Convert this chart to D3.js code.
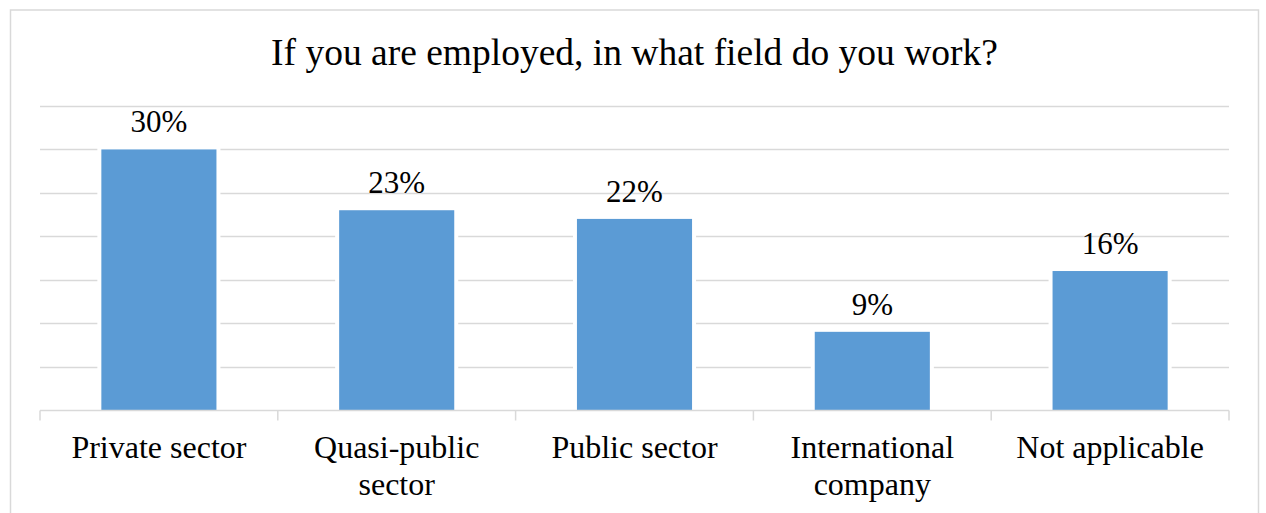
<!DOCTYPE html>
<html>
<head>
<meta charset="utf-8">
<script src="https://cdn.jsdelivr.net/npm/d3@7"></script>
<style>
  html, body { margin: 0; padding: 0; background: #fff; }
  svg { display: block; }
  text { font-family: "Liberation Serif", "Times New Roman", serif; fill: #000; }
</style>
</head>
<body>
<svg id="chart" width="1266" height="513"></svg>
<script>
// Survey answers: field of employment
const chartTitle = "If you are employed, in what field do you work?";
const categories = ["Private sector", "Quasi-public sector", "Public sector", "International company", "Not applicable"];
const categoryLines = [["Private sector"], ["Quasi-public", "sector"], ["Public sector"], ["International", "company"], ["Not applicable"]];
const shares = [30, 23, 22, 9, 16];
const gridTicks = [0, 5, 10, 15, 20, 25, 30, 35];

const svg = d3.select("#chart");
const plot = { left: 40, right: 1229, top: 106, bottom: 410 };

// chart frame
svg.append("rect")
  .attr("x", 10.5).attr("y", 10)
  .attr("width", 1248).attr("height", 520)
  .attr("fill", "#fff")
  .attr("stroke", "#d9d9d9").attr("stroke-width", 1.5);

svg.append("text")
  .attr("x", 634.5).attr("y", 65)
  .attr("text-anchor", "middle")
  .style("font-size", "37.5px")
  .text(chartTitle);

const x = d3.scaleBand().domain(categories).range([plot.left, plot.right]).padding(0);
const y = d3.scaleLinear().domain([0, 35]).range([plot.bottom, plot.top]);
const barW = x.bandwidth() * 0.484;

// horizontal gridlines (without the baseline)
svg.append("g")
  .selectAll("line")
  .data(gridTicks.filter(d => d > 0))
  .join("line")
  .attr("x1", plot.left).attr("x2", plot.right)
  .attr("y1", d => Math.round(y(d)) + 0.5).attr("y2", d => Math.round(y(d)) + 0.5)
  .attr("stroke", "#d9d9d9").attr("stroke-width", 1.5);

// bars with a thin white halo that breaks the gridlines
const bars = svg.append("g");
bars.selectAll("rect.halo")
  .data(categories)
  .join("rect")
  .attr("class", "halo")
  .attr("x", (d) => x(d) + (x.bandwidth() - barW) / 2 - 4)
  .attr("width", barW + 8)
  .attr("y", (d, i) => y(shares[i]) - 4)
  .attr("height", (d, i) => y(0) - y(shares[i]) + 4)
  .attr("fill", "#fff");
bars.selectAll("rect.bar")
  .data(categories)
  .join("rect")
  .attr("class", "bar")
  .attr("x", (d) => x(d) + (x.bandwidth() - barW) / 2)
  .attr("width", barW)
  .attr("y", (d, i) => y(shares[i]))
  .attr("height", (d, i) => y(0) - y(shares[i]))
  .attr("fill", "#5b9bd5");

// category axis along the baseline
const xAxis = svg.append("g").attr("transform", `translate(0,${plot.bottom + 0.5})`);
xAxis.append("line")
  .attr("x1", plot.left).attr("x2", plot.right)
  .attr("stroke", "#d9d9d9").attr("stroke-width", 1.5);
const boundaries = categories.map(d => x(d)).concat([plot.right]);
xAxis.selectAll("line.tick")
  .data(boundaries)
  .join("line")
  .attr("class", "tick")
  .attr("x1", d => d).attr("x2", d => d)
  .attr("y1", 0).attr("y2", 10)
  .attr("stroke", "#d9d9d9").attr("stroke-width", 1.5);

const catLabels = svg.append("g");
categories.forEach((c, i) => {
  const t = catLabels.append("text")
    .attr("x", x(c) + x.bandwidth() / 2)
    .attr("y", 458)
    .attr("text-anchor", "middle")
    .style("font-size", "32px");
  categoryLines[i].forEach((line, j) => {
    t.append("tspan")
      .attr("x", x(c) + x.bandwidth() / 2)
      .attr("dy", j === 0 ? 0 : 37)
      .text(line);
  });
});

// value labels above the bars
svg.append("g")
  .selectAll("text")
  .data(categories)
  .join("text")
  .attr("x", d => x(d) + x.bandwidth() / 2)
  .attr("y", (d, i) => y(shares[i]) - 17)
  .attr("text-anchor", "middle")
  .style("font-size", "31px")
  .text((d, i) => shares[i] + "%");
</script>
</body>
</html>
